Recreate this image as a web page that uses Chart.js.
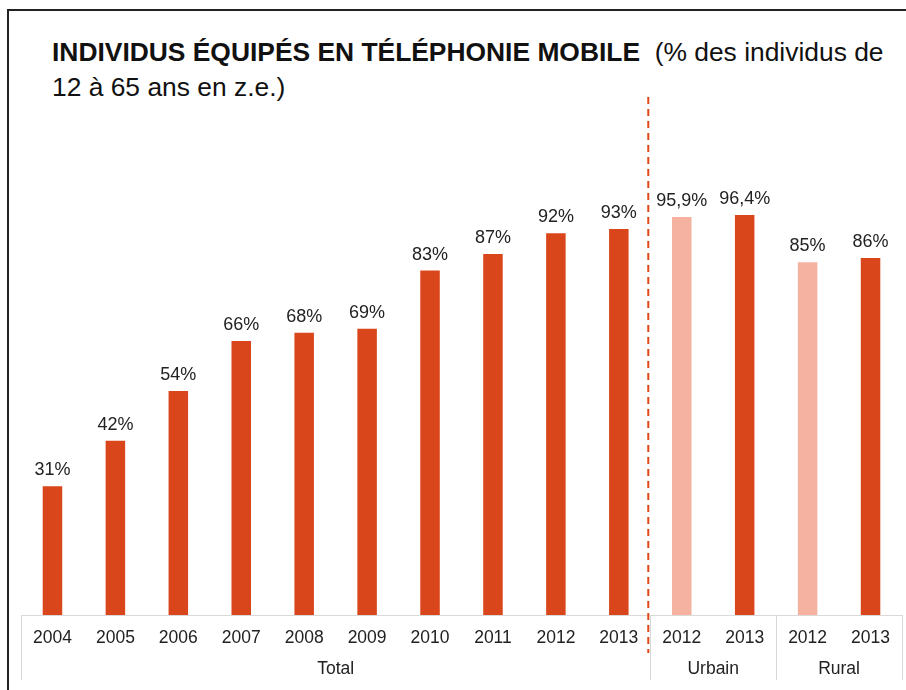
<!DOCTYPE html>
<html lang="fr">
<head>
<meta charset="UTF-8">
<title>Individus équipés en téléphonie mobile</title>
<script src="https://cdn.jsdelivr.net/npm/chart.js"></script>
<style>
  html, body { margin: 0; padding: 0; background: #fff; }
  body { width: 906px; height: 690px; position: relative; overflow: hidden; }
  .frame {
    position: absolute; left: 7px; top: 9px; width: 920px; height: 720px;
    border-left: 2px solid #222; border-top: 2px solid #222;
  }
  .title {
    position: absolute; left: 52px; top: 35px; width: 850px;
    font-family: "Liberation Sans", Arial, sans-serif;
    font-size: 26.4px; line-height: 35px; color: #111;
  }
  .title b { font-weight: bold; }
  #chart { position: absolute; left: 0; top: 0; }
</style>
</head>
<body>
<div class="frame"></div>
<div class="title"><b>INDIVIDUS ÉQUIPÉS EN TÉLÉPHONIE MOBILE</b>&nbsp; (% des individus de<br>12 à 65 ans en z.e.)</div>
<canvas id="chart" width="906" height="690"></canvas>

<script>
  // data
  const years = ['2004', '2005', '2006', '2007', '2008', '2009', '2010', '2011', '2012', '2013', '2012', '2013', '2012', '2013'];
  const values = [31, 42, 54, 66, 68, 69, 83, 87, 92, 93, 95.9, 96.4, 85, 86];
  const valueLabels = ['31%', '42%', '54%', '66%', '68%', '69%', '83%', '87%', '92%', '93%', '95,9%', '96,4%', '85%', '86%'];
  const groups = ['Total', 'Urbain', 'Rural'];
  const groupStart = [0, 10, 12];
  const groupEnd = [9, 11, 13];

  const dark = '#D9461B';
  const light = '#F5B2A0';
  const colors = values.map((v, i) => (i === 10 || i === 12) ? light : dark);
  const labelFont = '"Liberation Sans", Arial, sans-serif';

  // value labels, group labels, separators and dashed line
  const extras = {
    id: 'extras',
    afterDatasetsDraw(chart) {
      const ctx = chart.ctx;
      const x = chart.scales.x;
      const area = chart.chartArea;
      const meta = chart.getDatasetMeta(0);
      ctx.save();
      ctx.fillStyle = '#222';
      ctx.font = '18px ' + labelFont;
      ctx.textAlign = 'center';
      ctx.textBaseline = 'middle';
      meta.data.forEach((bar, i) => {
        ctx.fillText(valueLabels[i], bar.x, bar.y - 16);
      });

      // group separators
      const step = x.getPixelForValue(1) - x.getPixelForValue(0);
      ctx.strokeStyle = '#d9d9d9';
      ctx.lineWidth = 1;
      const edges = [groupStart[0]].concat(groupEnd.map(e => e + 1));
      edges.forEach(e => {
        const px = Math.round(x.getPixelForValue(e) - step / 2) + 0.5;
        ctx.beginPath();
        ctx.moveTo(px, area.bottom);
        ctx.lineTo(px, area.bottom + 65);
        ctx.stroke();
      });

      // group names
      ctx.font = '17.5px ' + labelFont;
      groups.forEach((g, i) => {
        const cx = (x.getPixelForValue(groupStart[i]) + x.getPixelForValue(groupEnd[i])) / 2;
        ctx.fillText(g, cx, area.bottom + 54);
      });

      // dashed divider
      const dx = (x.getPixelForValue(9) + x.getPixelForValue(10)) / 2 - 2;
      ctx.strokeStyle = '#E0461A';
      ctx.lineWidth = 2;
      ctx.setLineDash([7, 5]);
      ctx.beginPath();
      ctx.moveTo(dx, 97);
      ctx.lineTo(dx, area.bottom + 38);
      ctx.stroke();
      ctx.restore();
    }
  };

  new Chart(document.getElementById('chart'), {
    type: 'bar',
    data: {
      labels: years,
      datasets: [{
        data: values,
        backgroundColor: colors,
        borderWidth: 0,
        barPercentage: 0.62,
        categoryPercentage: 0.5
      }]
    },
    options: {
      responsive: false,
      animation: false,
      layout: { padding: { top: 200, left: 21, right: 4, bottom: 28 } },
      plugins: { legend: { display: false }, tooltip: { enabled: false } },
      scales: {
        x: {
          grid: { display: false, drawTicks: false },
          border: { color: '#d9d9d9' },
          ticks: {
            color: '#222',
            font: { family: labelFont, size: 17.5 },
            padding: 13,
            maxRotation: 0,
            autoSkip: false
          }
        },
        y: {
          display: false,
          min: 0,
          max: 100
        }
      }
    },
    plugins: [extras]
  });
</script>
</body>
</html>
